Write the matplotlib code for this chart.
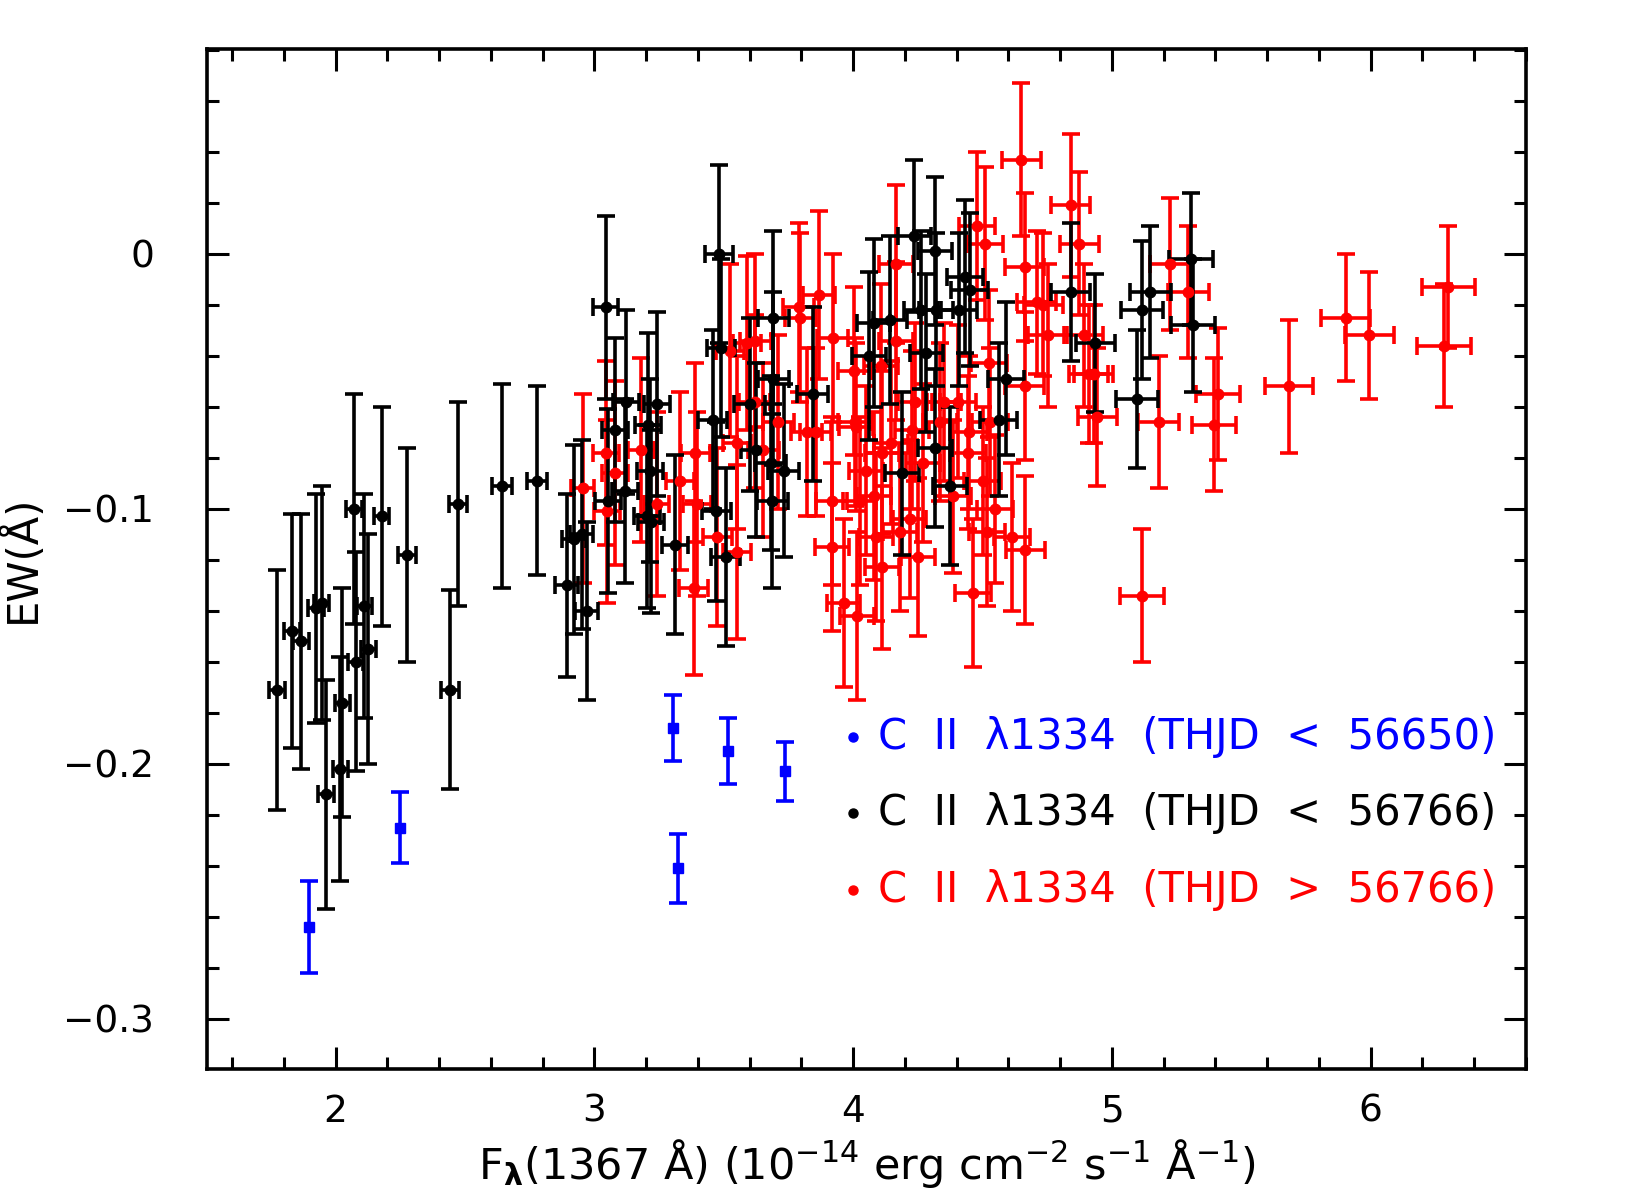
import numpy as np
import matplotlib
matplotlib.use("Agg")
import matplotlib.pyplot as plt
from matplotlib.ticker import MultipleLocator, FuncFormatter

# blue: C II 1334, THJD < 56650
blue_x = [1.898, 2.248, 3.302, 3.322, 3.518, 3.737]
blue_y = [-0.264, -0.225, -0.186, -0.241, -0.195, -0.203]
blue_yerr = [0.018, 0.014, 0.013, 0.0135, 0.013, 0.0115]

# black: C II 1334, THJD < 56766
black_x = [1.774, 1.832, 1.867, 1.923, 1.946, 1.963, 2.018, 2.026, 2.070, 2.077,
           2.111, 2.126, 2.178, 2.274, 2.442, 2.474, 2.643, 2.778, 2.893, 2.921,
           2.951, 2.970, 3.043, 3.054, 3.078, 3.119, 3.123, 3.206, 3.215, 3.203,
           3.218, 3.241, 3.312, 3.457, 3.482, 3.490, 3.471, 3.507, 3.600, 3.625,
           3.692, 3.692, 3.682, 3.731, 3.688, 3.843, 4.060, 4.079, 4.143, 4.237,
           4.263, 4.317, 4.320, 4.283, 4.189, 4.317, 4.375, 4.408, 4.433, 4.450,
           4.562, 4.592, 4.840, 4.936, 5.097, 5.117, 5.149, 5.307, 5.313]
black_y = [-0.171, -0.148, -0.152, -0.139, -0.137, -0.212, -0.202, -0.176, -0.100, -0.160,
           -0.138, -0.155, -0.103, -0.118, -0.171, -0.098, -0.091, -0.089, -0.130, -0.112,
           -0.110, -0.140, -0.021, -0.097, -0.069, -0.093, -0.058, -0.067, -0.085, -0.103,
           -0.105, -0.059, -0.114, -0.065, 0.000, -0.037, -0.101, -0.119, -0.059, -0.077,
           -0.025, -0.049, -0.082, -0.085, -0.097, -0.055, -0.040, -0.027, -0.026, 0.007,
           -0.022, 0.001, -0.022, -0.039, -0.086, -0.076, -0.091, -0.022, -0.009, -0.014,
           -0.065, -0.049, -0.015, -0.035, -0.057, -0.022, -0.015, -0.002, -0.028]
black_yerr = [0.047, 0.046, 0.050, 0.045, 0.046, 0.045, 0.044, 0.045, 0.045, 0.043,
              0.044, 0.045, 0.043, 0.042, 0.039, 0.040, 0.040, 0.037, 0.036, 0.037,
              0.037, 0.035, 0.036, 0.036, 0.036, 0.036, 0.036, 0.036, 0.036, 0.036,
              0.036, 0.036, 0.035, 0.035, 0.035, 0.035, 0.035, 0.035, 0.034, 0.034,
              0.034, 0.034, 0.034, 0.034, 0.034, 0.034, 0.033, 0.033, 0.033, 0.030,
              0.031, 0.029, 0.030, 0.031, 0.032, 0.031, 0.031, 0.030, 0.030, 0.030,
              0.030, 0.030, 0.027, 0.027, 0.027, 0.027, 0.026, 0.026, 0.026]
black_xerr = [0.030, 0.030, 0.030, 0.030, 0.030, 0.030, 0.030, 0.030, 0.030, 0.030,
              0.030, 0.030, 0.030, 0.035, 0.035, 0.035, 0.040, 0.040, 0.045, 0.045,
              0.045, 0.045, 0.050, 0.050, 0.050, 0.050, 0.050, 0.050, 0.050, 0.050,
              0.050, 0.050, 0.050, 0.055, 0.055, 0.055, 0.055, 0.055, 0.060, 0.060,
              0.060, 0.060, 0.060, 0.060, 0.060, 0.060, 0.065, 0.065, 0.065, 0.065,
              0.065, 0.065, 0.065, 0.065, 0.065, 0.065, 0.065, 0.070, 0.070, 0.070,
              0.070, 0.070, 0.075, 0.075, 0.080, 0.080, 0.080, 0.085, 0.085]

# red: C II 1334, THJD > 56766
red_x = [2.955, 3.045, 3.048, 3.080, 3.180, 3.240, 3.330, 3.383, 3.390, 3.396,
         3.475, 3.525, 3.550, 3.551, 3.590, 3.620, 3.621, 3.653, 3.710, 3.789,
         3.795, 3.821, 3.855, 3.868, 3.917, 3.918, 3.921, 3.963, 4.005, 4.008,
         4.010, 4.015, 4.025, 4.050, 4.080, 4.089, 4.107, 4.111, 4.111, 4.145,
         4.165, 4.166, 4.180, 4.218, 4.227, 4.240, 4.250, 4.270, 4.335, 4.350,
         4.385, 4.405, 4.445, 4.446, 4.463, 4.479, 4.500, 4.508, 4.517, 4.524,
         4.530, 4.549, 4.614, 4.649, 4.663, 4.663, 4.665, 4.710, 4.734, 4.752,
         4.840, 4.874, 4.891, 4.910, 4.930, 4.943, 5.117, 5.181, 5.226, 5.295,
         5.394, 5.411, 5.686, 5.903, 5.994, 6.283, 6.300]
red_y = [-0.092, -0.078, -0.101, -0.086, -0.077, -0.098, -0.089, -0.131, -0.078, -0.098,
         -0.111, -0.038, -0.074, -0.117, -0.035, -0.058, -0.034, -0.077, -0.066, -0.021,
         -0.025, -0.070, -0.070, -0.016, -0.097, -0.115, -0.033, -0.137, -0.046, -0.066,
         -0.068, -0.142, -0.097, -0.085, -0.095, -0.111, -0.044, -0.078, -0.123, -0.074,
         -0.034, -0.004, -0.109, -0.104, -0.069, -0.058, -0.119, -0.082, -0.066, -0.058,
         -0.095, -0.058, -0.078, -0.070, -0.133, 0.011, -0.089, 0.004, -0.109, -0.043,
         -0.066, -0.100, -0.111, 0.037, -0.005, -0.052, -0.116, -0.019, -0.020, -0.032,
         0.019, 0.004, -0.032, -0.047, -0.047, -0.064, -0.134, -0.066, -0.004, -0.015,
         -0.067, -0.055, -0.052, -0.025, -0.032, -0.036, -0.013]
red_yerr = [0.037, 0.036, 0.036, 0.036, 0.036, 0.036, 0.035, 0.034, 0.035, 0.036,
            0.035, 0.034, 0.034, 0.034, 0.034, 0.034, 0.034, 0.034, 0.034, 0.033,
            0.033, 0.033, 0.033, 0.033, 0.033, 0.033, 0.033, 0.033, 0.033, 0.033,
            0.033, 0.033, 0.033, 0.033, 0.033, 0.033, 0.032, 0.032, 0.032, 0.032,
            0.031, 0.031, 0.031, 0.031, 0.031, 0.031, 0.031, 0.031, 0.031, 0.031,
            0.030, 0.030, 0.030, 0.030, 0.029, 0.029, 0.029, 0.030, 0.029, 0.029,
            0.029, 0.029, 0.029, 0.030, 0.029, 0.029, 0.029, 0.028, 0.028, 0.028,
            0.028, 0.028, 0.028, 0.027, 0.027, 0.027, 0.026, 0.026, 0.026, 0.026,
            0.026, 0.026, 0.026, 0.025, 0.025, 0.024, 0.024]
red_xerr = [0.045, 0.050, 0.050, 0.050, 0.050, 0.050, 0.055, 0.055, 0.055, 0.055,
            0.055, 0.055, 0.055, 0.055, 0.055, 0.060, 0.060, 0.060, 0.060, 0.060,
            0.060, 0.060, 0.060, 0.060, 0.060, 0.065, 0.060, 0.065, 0.065, 0.065,
            0.065, 0.065, 0.065, 0.065, 0.065, 0.065, 0.065, 0.065, 0.065, 0.065,
            0.065, 0.065, 0.065, 0.065, 0.065, 0.065, 0.065, 0.065, 0.065, 0.065,
            0.070, 0.070, 0.070, 0.070, 0.070, 0.070, 0.070, 0.070, 0.070, 0.070,
            0.070, 0.070, 0.070, 0.075, 0.075, 0.075, 0.075, 0.075, 0.075, 0.075,
            0.075, 0.075, 0.075, 0.075, 0.075, 0.075, 0.084, 0.080, 0.080, 0.080,
            0.085, 0.085, 0.093, 0.094, 0.095, 0.103, 0.103]

legend_labels = ["C  II  \u03bb1334  (THJD  <  56650)",
                 "C  II  \u03bb1334  (THJD  <  56766)",
                 "C  II  \u03bb1334  (THJD  >  56766)"]
legend_colors = ["#0000ff", "black", "#ff0000"]

plt.rcParams['font.family'] = ['DejaVu Sans']

fig = plt.figure(figsize=(16.5, 11.98), dpi=100)
ax = fig.add_axes([0.1255, 0.1077, 0.7993, 0.8513])

kw = dict(fmt='o', ms=7.5, elinewidth=2.6, capsize=6.5, capthick=2.6, lw=0)
ax.errorbar(red_x, red_y, yerr=red_yerr, xerr=red_xerr, color='#ff0000', **kw)
ax.errorbar(black_x, black_y, yerr=black_yerr, xerr=black_xerr, color='black', **kw)
ax.errorbar(blue_x, blue_y, yerr=blue_yerr, fmt='s', ms=6.5, elinewidth=2.6,
            capsize=6.5, capthick=2.6, color='#0000ff')

ax.set_xlim(1.503, 6.60)
ax.set_ylim(-0.3197, 0.0803)

ax.xaxis.set_major_locator(MultipleLocator(1))
ax.xaxis.set_minor_locator(MultipleLocator(0.2))
ax.yaxis.set_major_locator(MultipleLocator(0.1))
ax.yaxis.set_minor_locator(MultipleLocator(0.02))

def fmt(v, pos):
    s = "%g" % round(v, 3)
    return s.replace('-', '\u2212')

ax.xaxis.set_major_formatter(FuncFormatter(fmt))
ax.yaxis.set_major_formatter(FuncFormatter(fmt))

ax.tick_params(which='both', direction='in', top=True, right=True, width=2.2,
               labelsize=27)
ax.tick_params(axis='x', pad=18)
ax.tick_params(axis='y', pad=38)
ax.tick_params(which='major', length=16)
ax.tick_params(which='minor', length=8.5)
for sp in ax.spines.values():
    sp.set_linewidth(2.6)

ax.set_xlabel(r"F$_{\mathbf{\lambda}}$(1367 Å) (10$^{-14}$ erg cm$^{-2}$ s$^{-1}$ Å$^{-1}$)",
              fontsize=31, labelpad=5)
ax.set_ylabel("EW(Å)", fontsize=30, labelpad=14)

rows = [0.326, 0.2506, 0.1753]
for lab, col, yy in zip(legend_labels, legend_colors, rows):
    ax.plot([0.490], [yy], 'o', ms=6.5, color=col, transform=ax.transAxes)
    ax.text(0.509, yy, lab, color=col, fontsize=30, va='center', ha='left',
            transform=ax.transAxes)

fig.savefig("out.png", dpi=100)
